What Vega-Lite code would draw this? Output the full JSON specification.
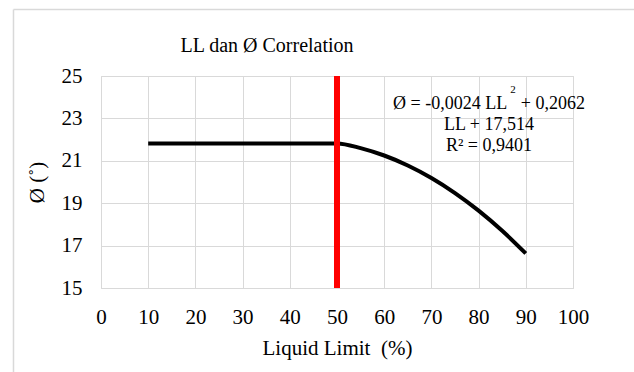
{
  "$schema": "https://vega.github.io/schema/vega-lite/v6.json",
  "autosize": {"type": "none"},
  "width": 472,
  "height": 212,
  "padding": {"left": 101, "top": 76, "right": 61, "bottom": 84},
  "background": "white",
  "config": {
    "font": "Liberation Serif",
    "view": {"stroke": "#d9d9d9", "strokeWidth": 1},
    "axis": {"grid": true, "gridColor": "#d9d9d9", "gridWidth": 1, "ticks": false, "tickSize": 0, "domain": false, "labelFlush": false, "labelFont": "Liberation Serif", "labelColor": "#000000", "labelFontSize": 21, "titleFont": "Liberation Serif", "titleColor": "#000000", "titleFontSize": 21, "titleFontWeight": "normal"}
  },
  "title": {"text": "LL dan Ø Correlation", "font": "Liberation Serif", "fontSize": 20, "fontWeight": "normal", "color": "#000000", "anchor": "middle", "frame": "group", "dx": -70, "baseline": "alphabetic", "offset": -63},
  "layer": [
    {
      "data": {"values": [
        {"LL": 10, "phi": 21.82},
        {"LL": 20, "phi": 21.82},
        {"LL": 30, "phi": 21.82},
        {"LL": 40, "phi": 21.82},
        {"LL": 50, "phi": 21.82},
        {"LL": 55, "phi": 21.6},
        {"LL": 60, "phi": 21.25},
        {"LL": 65, "phi": 20.78},
        {"LL": 70, "phi": 20.19},
        {"LL": 75, "phi": 19.48},
        {"LL": 80, "phi": 18.65},
        {"LL": 85, "phi": 17.7},
        {"LL": 90, "phi": 16.63}
      ]},
      "mark": {"type": "line", "color": "#000000", "strokeWidth": 4, "interpolate": "monotone"},
      "encoding": {
        "x": {"field": "LL", "type": "quantitative", "scale": {"domain": [0, 100], "nice": false}, "axis": {"values": [0,10,20,30,40,50,60,70,80,90,100], "title": "Liquid Limit\u00a0\u00a0(%)", "labelPadding": 18, "titleX": 236, "titleY": 60, "titleBaseline": "middle", "titleAlign": "center"}},
        "y": {"field": "phi", "type": "quantitative", "scale": {"domain": [15, 25], "nice": false, "zero": false}, "axis": {"values": [15,17,19,21,23,25], "title": "Ø (˚)", "labelPadding": 19, "titleAngle": -90, "titleX": -64, "titleY": 106, "titleAlign": "center", "titleBaseline": "middle"}}
      }
    },
    {
      "data": {"values": [{"limit": 50}]},
      "mark": {"type": "rule", "color": "#ff0000", "strokeWidth": 6},
      "encoding": {"x": {"field": "limit", "type": "quantitative"}}
    },
    {
      "data": {"values": [{"label": "equation"}]},
      "mark": {"type": "text", "text": ["Ø = -0,0024 LL\u00a0\u00a0\u00a0+ 0,2062", "LL + 17,514", "R² = 0,9401"], "font": "Liberation Serif", "fontSize": 18, "lineHeight": 21, "align": "center", "baseline": "middle", "color": "#000000"},
      "encoding": {"x": {"datum": 82.2}, "y": {"datum": 23.68}}
    },
    {
      "data": {"values": [{"label": "sup"}]},
      "mark": {"type": "text", "text": "2", "font": "Liberation Serif", "fontSize": 11, "align": "center", "baseline": "middle", "color": "#000000"},
      "encoding": {"x": {"datum": 87.3}, "y": {"datum": 24.36}}
    },
    {
      "data": {"values": [{"frame": "top"}]},
      "mark": {"type": "rule", "color": "#d9d9d9", "strokeWidth": 1.5, "clip": false},
      "encoding": {"x": {"datum": -18.54}, "x2": {"datum": 113}, "y": {"datum": 28.14}}
    },
    {
      "data": {"values": [{"frame": "left"}]},
      "mark": {"type": "rule", "color": "#d9d9d9", "strokeWidth": 1.5, "clip": false},
      "encoding": {"x": {"datum": -18.54}, "y": {"datum": 28.14}, "y2": {"datum": 11}}
    }
  ]
}
